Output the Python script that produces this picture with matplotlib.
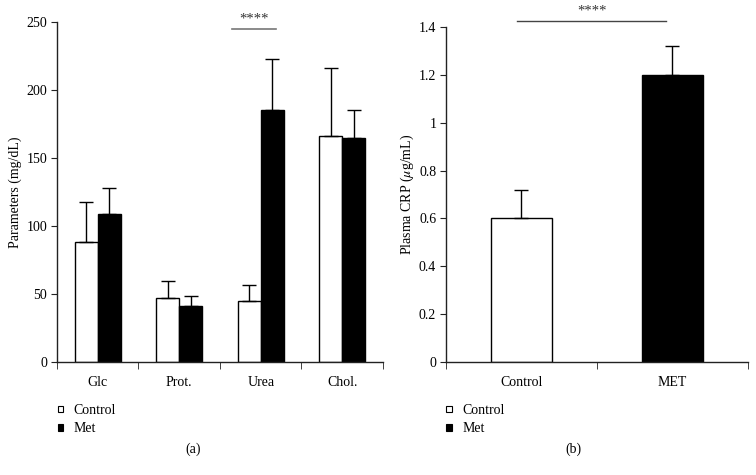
import numpy as np
import matplotlib
matplotlib.use("Agg")
from matplotlib import pyplot as plt
from matplotlib.patches import Patch

plt.rcParams['font.family'] = ['Liberation Serif', 'DejaVu Serif']
plt.rcParams['font.size'] = 10
plt.rcParams['mathtext.fontset'] = 'stix'

# panel (a): serum parameters
params = ["Glc", "Prot.", "Urea", "Chol."]
ctrl_mean = [88, 47, 45, 166]
ctrl_err = [30, 12.5, 11.5, 50.5]
met_mean = [109, 41, 185, 164.5]
met_err = [19, 7.5, 38, 21]

# panel (b): plasma CRP
crp_groups = ["Control", "MET"]
crp_mean = [0.6, 1.2]
crp_err = [0.12, 0.12]

legend_labels = ["Control", "Met"]
edge = "#222222"

fig = plt.figure(figsize=(7.56, 4.75), dpi=100)
ax1 = fig.add_axes([0.0754, 0.2379, 0.4312, 0.7158])
ax2 = fig.add_axes([0.5899, 0.2385, 0.3995, 0.7040])

err_kw = dict(ecolor="black", elinewidth=1.0, capsize=5, capthick=1.0)

# ---- (a)
x = np.arange(len(params))
w = 0.285
ax1.bar(x - w / 2, ctrl_mean, w, color="white", edgecolor="black", linewidth=1.0,
        yerr=[np.zeros(len(params)), ctrl_err], error_kw=err_kw, zorder=2)
ax1.bar(x + w / 2, met_mean, w, color="black", edgecolor="black", linewidth=1.0,
        yerr=[np.zeros(len(params)), met_err], error_kw=err_kw, zorder=2)
ax1.set_xlim(-0.5, len(params) - 0.5)
ax1.set_ylim(0, 250)
ax1.set_yticks([0, 50, 100, 150, 200, 250])
ax1.set_xticks(x)
ax1.set_xticklabels(params)
ax1.set_xticks(np.arange(len(params) + 1) - 0.5, minor=True)
ax1.tick_params(axis="x", which="major", length=0, pad=10)
ax1.tick_params(axis="x", which="minor", length=5, direction="out", color=edge)
ax1.tick_params(axis="y", length=4, direction="out", color=edge, pad=3)
ax1.set_ylabel("Parameters (mg/dL)", labelpad=3)

# significance over urea
ax1.plot([2 - 0.35, 2 + 0.19], [244.5, 244.5], color="#777777", lw=1.2, clip_on=False)
ax1.text(2 - 0.08, 247.5, "****", ha="center", va="bottom", fontsize=10.5, color="#333333")

# ---- (b)
xb = np.arange(len(crp_groups))
ax2.bar(xb[0], crp_mean[0], 0.4, color="white", edgecolor="black", linewidth=1.0,
        yerr=[[0], [crp_err[0]]], error_kw=err_kw, zorder=2)
ax2.bar(xb[1], crp_mean[1], 0.4, color="black", edgecolor="black", linewidth=1.0,
        yerr=[[0], [crp_err[1]]], error_kw=err_kw, zorder=2)
ax2.set_xlim(-0.5, len(crp_groups) - 0.5)
ax2.set_ylim(0, 1.4)
ax2.set_yticks([0, 0.2, 0.4, 0.6, 0.8, 1.0, 1.2, 1.4])
ax2.set_yticklabels(["0", "0.2", "0.4", "0.6", "0.8", "1", "1.2", "1.4"])
ax2.set_xticks(xb)
ax2.set_xticklabels(crp_groups)
ax2.set_xticks(np.arange(len(crp_groups) + 1) - 0.5, minor=True)
ax2.tick_params(axis="x", which="major", length=0, pad=10)
ax2.tick_params(axis="x", which="minor", length=5, direction="out", color=edge)
ax2.tick_params(axis="y", length=4, direction="out", color=edge, pad=3)
ax2.set_ylabel(r"Plasma CRP ($\mu$g/mL)", labelpad=2)

ax2.plot([-0.03, 0.96], [1.428, 1.428], color="#444444", lw=1.0, clip_on=False)
ax2.text(0.47, 1.44, "****", ha="center", va="bottom", fontsize=10.5, color="#333333")

for ax in (ax1, ax2):
    for s in ("top", "right"):
        ax.spines[s].set_visible(False)
    for s in ("left", "bottom"):
        ax.spines[s].set_color(edge)
        ax.spines[s].set_linewidth(1.0)

handles = [Patch(facecolor="white", edgecolor="black", linewidth=0.8),
           Patch(facecolor="black", edgecolor="black", linewidth=0.8)]
for ax, xpos in ((ax1, 0.060), (ax2, 0.574)):
    ax.legend(handles, legend_labels, loc="upper left", bbox_to_anchor=(xpos, 0.176),
              bbox_transform=fig.transFigure, frameon=False, handlelength=0.38,
              handleheight=0.38, handletextpad=0.75, labelspacing=0.4, fontsize=10)

fig.text(0.255, 0.055, "(a)", ha="center", va="center", fontsize=10)
fig.text(0.758, 0.055, "(b)", ha="center", va="center", fontsize=10)

fig.savefig("out.png", dpi=100)
